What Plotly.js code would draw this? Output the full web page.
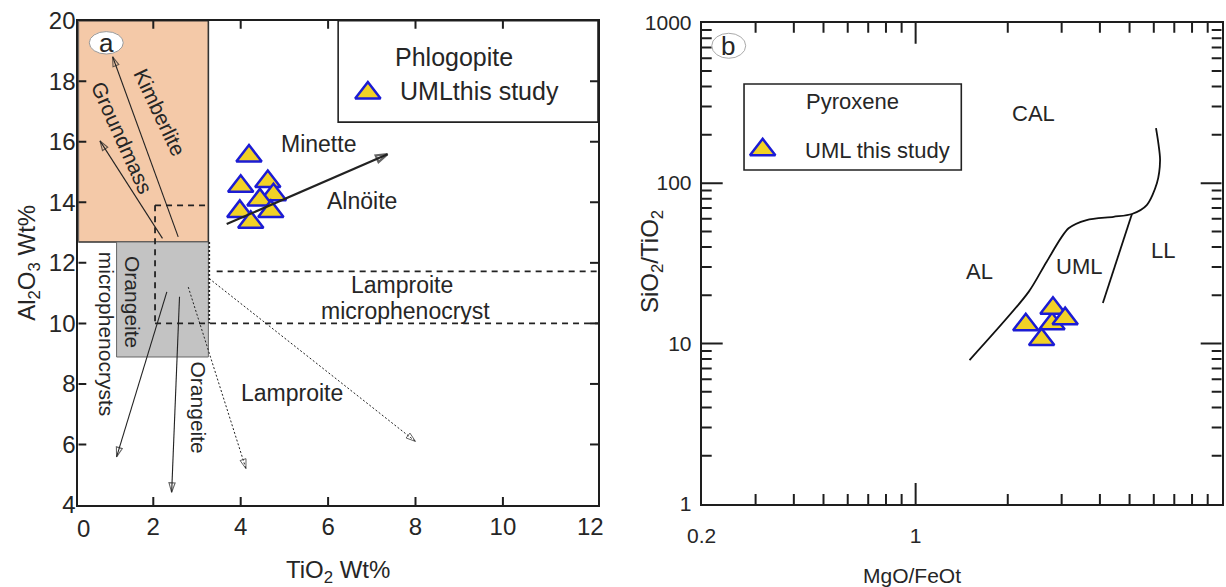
<!DOCTYPE html>
<html>
<head>
<meta charset="utf-8">
<script src="https://cdn.plot.ly/plotly-3.0.1.min.js"></script>
<style>html,body{margin:0;padding:0;background:#fff;}#chart{width:1226px;height:587px;}</style>
</head>
<body>
<div id="chart"></div>
<script>
// ---------- Panel a : Phlogopite (TiO2 vs Al2O3) ----------
const phlogTiO2  = [4.19, 4.62, 4.00, 4.75, 4.44, 3.98, 4.69, 4.23];
const phlogAl2O3 = [15.53, 14.69, 14.53, 14.25, 14.08, 13.70, 13.70, 13.34];
const legendA_TiO2 = [6.91];
const legendA_Al2O3 = [17.61];

// field boxes [x0, x1, y0, y1]
const kimberliteBox = [0.284, 3.26, 12.69, 20];
const orangeiteBox  = [1.16, 3.26, 8.89, 12.69];
const legendABox    = [6.23, 12.176, 16.65, 20];
// dashed field boundaries [x0, y0, x1, y1]
const dashedLinesA = [
  [2.04, 13.9, 2.04, 10.0],
  [2.04, 13.9, 3.26, 13.9],
  [2.04, 10.0, 12.176, 10.0],
  [3.45, 11.72, 12.176, 11.72]
];
const dottedLinesA = [[3.28, 12.69, 3.28, 10.0]];
// trend arrows: [tailX, headX], [tailY, headY]
const kimberliteArrowX = [2.57, 1.07],  kimberliteArrowY = [12.86, 18.81];
const groundmassArrowX = [2.21, 0.78],  groundmassArrowY = [12.81, 16.03];
const microArrowX      = [2.31, 1.16],  microArrowY      = [11.04, 5.59];
const orangeiteArrowX  = [2.60, 2.42],  orangeiteArrowY  = [10.88, 4.42];
const minetteArrowX    = [3.68, 7.36],  minetteArrowY    = [13.28, 15.59];
const lamproiteArrow1X = [2.80, 4.12],  lamproiteArrow1Y = [11.20, 5.20];
const lamproiteArrow2X = [3.28, 8.00],  lamproiteArrow2Y = [11.48, 6.10];
// labels: text, x, y, angle, size
const labelsA = [
  ['Kimberlite', 2.15, 16.97, 64.6, 21],
  ['Groundmass', 1.28, 16.14, 65.8, 21],
  ['Orangeite', 1.51, 10.71, 90, 21],
  ['microphenocrysts', 0.93, 9.64, 90, 21],
  ['Orangeite', 3.03, 7.21, 90, 21],
  ['Minette', 5.78, 15.92, 0, 23],
  ['Alnöite', 6.78, 14.04, 0, 23],
  ['Lamproite', 7.70, 11.26, 0, 23],
  ['microphenocryst', 7.76, 10.40, 0, 23],
  ['Lamproite', 5.17, 7.69, 0, 23],
  ['Phlogopite', 8.87, 18.79, 0, 25]
];
const xTicksA = [2, 4, 6, 8, 10, 12];
const xTickMarksA = [2, 4, 6, 8, 10];
const yTicksA = [4, 6, 8, 10, 12, 14, 16, 18, 20];
const yTickMarksA = [6, 8, 10, 12, 14, 16, 18];

// ---------- Panel b : Pyroxene (MgO/FeOt vs SiO2/TiO2) ----------
const pyxMgFe = [2.79, 2.81, 3.08, 2.29, 2.58];
const pyxSiTi = [13.3, 16.6, 14.3, 13.1, 10.6];
const legendB_MgFe = [0.3164];
const legendB_SiTi = [161.5];
const boundaryCAL_MgFe = [1.50, 2.34, 2.68, 3.16, 3.62, 4.43, 5.09, 5.69, 6.14, 6.29, 6.21, 6.10];
const boundaryCAL_SiTi = [7.89, 21.0, 32.4, 52.3, 58.9, 61.7, 64.2, 73.0, 99.7, 139, 177, 220];
const boundaryLL_MgFe = [5.09, 4.09];
const boundaryLL_SiTi = [64.2, 17.9];
const legendBBox = [0.275, 1.41, 120.7, 415];
const labelsB = [
  ['CAL', 2.42, 273],
  ['AL', 1.62, 28.1],
  ['UML', 3.42, 30.1],
  ['LL', 6.45, 38.3]
];
const xTicksB = [0.2, 1, 10];
const xMajorMarksB = [1];
const xMinorB = [0.3,0.4,0.5,0.6,0.7,0.8,0.9,2,3,4,5,6,7,8,9];
const yTicksB = [1, 10, 100, 1000];
const yMajorMarksB = [10, 100];
const yMinorB = [2,3,4,5,6,7,8,9,20,30,40,50,60,70,80,90,200,300,400,500,600,700,800,900];

const FONT = 'Liberation Sans, Arial, sans-serif';
const INK = '#262626';
const AXC = '#1e1e1e';
const TRI_FILL = '#f2d226';
const TRI_LINE = '#1c1cd4';
const triMarker = {symbol:'triangle-up', size:22, color:TRI_FILL, line:{color:TRI_LINE, width:2.5}};

// axis geometry (px) used to size the inside tick marks
const XA = {range:[0.284, 12.176], px:[78.3, 598]};
const YA = {range:[4, 20], px:[505, 20.7]};
const XB = {range:[Math.log10(0.2), 1], px:[701.7, 1221.7]};
const YB = {range:[0, 3], px:[504, 22.7]};
function unitsPerPx(a){ return (a.range[1] - a.range[0]) / Math.abs(a.px[1] - a.px[0]); }

// tick-mark polylines (segments separated by nulls), built from the tick arrays
function tickTraceA(){
  const xs = [], ys = [];
  const dy = 8 * unitsPerPx(YA), dx = 8 * unitsPerPx(XA);
  xTickMarksA.forEach(v => { xs.push(v, v, null, v, v, null); ys.push(YA.range[0], YA.range[0] + dy, null, YA.range[1] - dy, YA.range[1], null); });
  yTickMarksA.forEach(v => { xs.push(XA.range[0], XA.range[0] + dx, null, XA.range[1] - dx, XA.range[1], null); ys.push(v, v, null, v, v, null); });
  return {x:xs, y:ys, xaxis:'x', yaxis:'y', type:'scatter', mode:'lines', line:{color:AXC, width:2}, hoverinfo:'skip', connectgaps:false};
}
function tickTraceB(){
  const xs = [], ys = [];
  const yLo = Math.pow(10, YB.range[0]), yHi = Math.pow(10, YB.range[1]);
  const xLo = Math.pow(10, XB.range[0]), xHi = Math.pow(10, XB.range[1]);
  const fy = len => Math.pow(10, len * unitsPerPx(YB));
  const fx = len => Math.pow(10, len * unitsPerPx(XB));
  const xt = (v, len) => { xs.push(v, v, null, v, v, null); ys.push(yLo, yLo * fy(len), null, yHi / fy(len), yHi, null); };
  const yt = (v, len) => { xs.push(xLo, xLo * fx(len), null, xHi / fx(len), xHi, null); ys.push(v, v, null, v, v, null); };
  xMajorMarksB.forEach(v => xt(v, 21));
  xMinorB.forEach(v => xt(v, 10));
  yMajorMarksB.forEach(v => yt(v, 21));
  yMinorB.forEach(v => yt(v, 10));
  return {x:xs, y:ys, xaxis:'x2', yaxis:'y2', type:'scatter', mode:'lines', line:{color:AXC, width:2}, hoverinfo:'skip', connectgaps:false};
}

function arrowTrace(xs, ys, width, dash, headSize){
  return {x:xs, y:ys, xaxis:'x', yaxis:'y', type:'scatter', mode:'lines+markers', hoverinfo:'skip',
    line:{color:'#222', width:width, dash:dash},
    marker:{symbol:'arrow-open', size:[0, headSize], angleref:'previous', color:'#222', line:{color:'#222', width:width}}};
}

const traces = [
  tickTraceA(),
  tickTraceB(),
  arrowTrace(kimberliteArrowX, kimberliteArrowY, 1.1, 'solid', 10),
  arrowTrace(groundmassArrowX, groundmassArrowY, 1.1, 'solid', 10),
  arrowTrace(microArrowX, microArrowY, 1.1, 'solid', 10),
  arrowTrace(orangeiteArrowX, orangeiteArrowY, 1.1, 'solid', 10),
  arrowTrace(lamproiteArrow1X, lamproiteArrow1Y, 1, '2px,2px', 10),
  arrowTrace(lamproiteArrow2X, lamproiteArrow2Y, 1, '2px,2px', 10),
  {x:phlogTiO2, y:phlogAl2O3, xaxis:'x', yaxis:'y', type:'scatter', mode:'markers', marker:triMarker, hoverinfo:'x+y'},
  arrowTrace(minetteArrowX, minetteArrowY, 2.2, 'solid', 12),
  {x:legendA_TiO2, y:legendA_Al2O3, xaxis:'x', yaxis:'y', type:'scatter', mode:'markers', marker:triMarker, hoverinfo:'skip'},
  {x:boundaryCAL_MgFe, y:boundaryCAL_SiTi, xaxis:'x2', yaxis:'y2', type:'scatter', mode:'lines', line:{color:'#111', width:1.8, shape:'spline', smoothing:0.8}, hoverinfo:'skip'},
  {x:boundaryLL_MgFe, y:boundaryLL_SiTi, xaxis:'x2', yaxis:'y2', type:'scatter', mode:'lines', line:{color:'#111', width:1.8}, hoverinfo:'skip'},
  {x:pyxMgFe, y:pyxSiTi, xaxis:'x2', yaxis:'y2', type:'scatter', mode:'markers', marker:triMarker, hoverinfo:'x+y'},
  {x:legendB_MgFe, y:legendB_SiTi, xaxis:'x2', yaxis:'y2', type:'scatter', mode:'markers', marker:triMarker, hoverinfo:'skip'}
];

const shapes = [];
const ann = [];
function rect(b, xr, yr, fill, lc, lw, layer){
  shapes.push({type:'rect', xref:xr, yref:yr, x0:b[0], x1:b[1], y0:b[2], y1:b[3],
    fillcolor:fill, line:{color:lc, width:lw}, layer:layer||'below'});
}
rect(kimberliteBox, 'x', 'y', '#f4c9a8', '#333', 1.6);
rect(orangeiteBox, 'x', 'y', '#c3c3c3', '#666', 1);
rect(legendABox, 'x', 'y', 'rgba(255,255,255,0)', '#222', 1.6);
rect(legendBBox, 'x2', 'y2', 'rgba(255,255,255,0)', '#222', 1.6);
dashedLinesA.forEach(l => shapes.push({type:'line', xref:'x', yref:'y', x0:l[0], y0:l[1], x1:l[2], y1:l[3], line:{color:'#222', width:1.8, dash:'6px,5px'}}));
dottedLinesA.forEach(l => shapes.push({type:'line', xref:'x', yref:'y', x0:l[0], y0:l[1], x1:l[2], y1:l[3], line:{color:'#222', width:1.8, dash:'2px,2px'}}));
// panel label circles
shapes.push({type:'circle', xref:'x', yref:'y', x0:0.535, x1:1.313, y0:18.9, y1:19.64, fillcolor:'#fff', line:{color:'#999', width:1}, layer:'above'});
shapes.push({type:'circle', xref:'x2', yref:'y2', x0:0.2157, x1:0.2785, y0:600, y1:859, fillcolor:'#fff', line:{color:'#aaa', width:1}, layer:'above'});

labelsA.forEach(l => ann.push({xref:'x', yref:'y', x:l[1], y:l[2], text:l[0], textangle:l[3], showarrow:false, font:{size:l[4], color:INK}}));
ann.push({xref:'x', yref:'y', x:7.61, y:17.69, xanchor:'left', yanchor:'middle', text:'UMLthis study', showarrow:false, font:{size:25, color:INK}});
ann.push({xref:'x', yref:'y', x:0.92, y:19.26, xanchor:'center', yanchor:'middle', text:'a', showarrow:false, font:{size:26, color:INK}});
ann.push({xref:'paper', yref:'paper', x:83/1226, y:1-528/587, xanchor:'center', yanchor:'middle', text:'0', showarrow:false, font:{size:24, color:INK}});

labelsB.forEach(l => ann.push({xref:'x2', yref:'y2', x:Math.log10(l[1]), y:Math.log10(l[2]), xanchor:'center', yanchor:'middle', text:l[0], showarrow:false, font:{size:22, color:INK}}));
ann.push({xref:'x2', yref:'y2', x:Math.log10(0.624), y:Math.log10(321.7), xanchor:'center', yanchor:'middle', text:'Pyroxene', showarrow:false, font:{size:22, color:INK}});
ann.push({xref:'x2', yref:'y2', x:Math.log10(0.4286), y:Math.log10(160.8), xanchor:'left', yanchor:'middle', text:'UML this study', showarrow:false, font:{size:22, color:INK}});
ann.push({xref:'x2', yref:'y2', x:Math.log10(0.2443), y:Math.log10(717), xanchor:'center', yanchor:'middle', text:'b', showarrow:false, font:{size:26, color:INK}});
ann.push({xref:'paper', yref:'paper', x:912/1226, y:1-575/587, xanchor:'center', yanchor:'middle', text:'MgO/FeOt', showarrow:false, font:{size:21, color:INK}});
ann.push({xref:'paper', yref:'paper', x:651/1226, y:1-262/587, xanchor:'center', yanchor:'middle', text:'SiO<sub>2</sub>/TiO<sub>2</sub>', textangle:-90, showarrow:false, font:{size:24, color:INK}});

const axBase = {showgrid:false, zeroline:false, showline:true, linecolor:AXC, linewidth:2,
  mirror:true, ticks:''};

const layout = {
  width:1226, height:587, margin:{l:0, r:0, t:0, b:0},
  paper_bgcolor:'#fff', plot_bgcolor:'rgba(0,0,0,0)', showlegend:false,
  font:{family:FONT, color:INK},
  xaxis:Object.assign({}, axBase, {domain:[78.3/1226, 598/1226], range:XA.range, anchor:'y',
    tickmode:'array', tickvals:xTicksA, tickfont:{size:24, color:INK}, ticklabelstandoff:-1,
    title:{text:'TiO<sub>2</sub> Wt%', font:{size:24, color:INK}, standoff:27}}),
  yaxis:Object.assign({}, axBase, {domain:[1-505/587, 1-20.7/587], range:YA.range, anchor:'x',
    tickmode:'array', tickvals:yTicksA, tickfont:{size:24, color:INK}, ticklabelstandoff:-4,
    title:{text:'Al<sub>2</sub>O<sub>3</sub> Wt%', font:{size:24, color:INK}, standoff:6}}),
  xaxis2:Object.assign({}, axBase, {domain:[701.7/1226, 1221.7/1226], type:'log', range:XB.range, anchor:'y2',
    tickmode:'array', tickvals:xTicksB, ticktext:xTicksB.map(String), tickfont:{size:21, color:INK}, ticklabelstandoff:12}),
  yaxis2:Object.assign({}, axBase, {domain:[1-504/587, 1-22.7/587], type:'log', range:YB.range, anchor:'x2',
    tickmode:'array', tickvals:yTicksB, ticktext:yTicksB.map(String), tickfont:{size:21, color:INK}, ticklabelstandoff:4}),
  shapes:shapes,
  annotations:ann
};

Plotly.newPlot('chart', traces, layout, {staticPlot:true, displayModeBar:false});
</script>
</body>
</html>
